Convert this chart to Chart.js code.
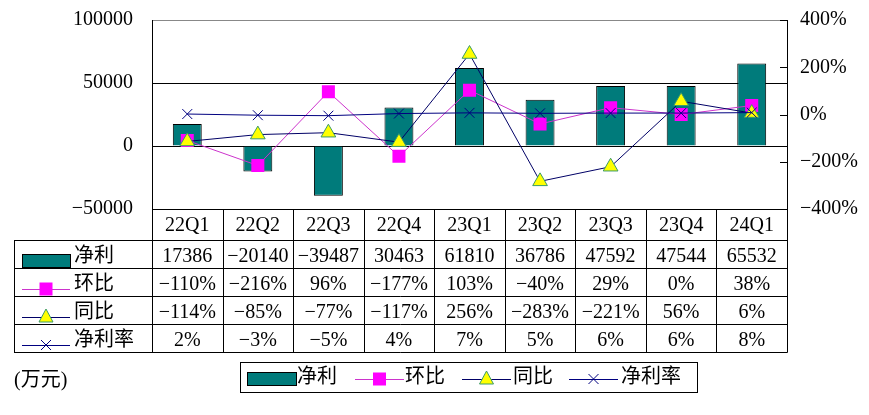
<!DOCTYPE html>
<html>
<head>
<meta charset="utf-8">
<script src="https://cdn.jsdelivr.net/npm/chart.js@4"></script>
<style>
html,body{margin:0;padding:0;background:#fff;}
#wrap{position:relative;width:869px;height:415px;}
</style>
</head>
<body>
<div id="wrap"><canvas id="c" width="869" height="415"></canvas></div>
<script>
const categories = ['22Q1','22Q2','22Q3','22Q4','23Q1','23Q2','23Q3','23Q4','24Q1'];
const netProfit = [17386, -20140, -39487, 30463, 61810, 36786, 47592, 47544, 65532];
const qoq = [-110, -216, 96, -177, 103, -40, 29, 0, 38];
const yoy = [-114, -85, -77, -117, 256, -283, -221, 56, 6];
const margin = [2, -3, -5, 4, 7, 5, 6, 6, 8];
const leftTicks = [-50000, 0, 50000, 100000];
const rightTicks = [-400, -200, 0, 200, 400];
const seriesNames = ['净利', '环比', '同比', '净利率'];
const unitLabel = '(万元)';

const FAMILY = '"Liberation Serif", "Noto Sans CJK SC"';
const FONT = '20px ' + FAMILY;
const TEAL = '#007b7b';
const MAGENTA = '#ff00ff';
const MAG_LINE = '#cc33cc';
const NAVY = '#000066';
const NAVY2 = '#000080';
const fmtNum = v => String(v).replace('-', '\u2212');
const fmtPct = v => fmtNum(v) + '%';

function drawSym(ctx, kind, x1, x2, y) {
  const cx = (x1 + x2) / 2;
  ctx.save();
  ctx.lineWidth = 1;
  if (kind === 0) {
    ctx.fillStyle = TEAL; ctx.strokeStyle = '#000';
    ctx.fillRect(x1, y - 7, x2 - x1, 13);
    ctx.strokeRect(x1 + 0.5, y - 6.5, x2 - x1, 13);
  } else {
    ctx.strokeStyle = kind === 1 ? MAG_LINE : (kind === 2 ? NAVY : NAVY2);
    ctx.beginPath(); ctx.moveTo(x1, Math.round(y) + 0.5); ctx.lineTo(x2, Math.round(y) + 0.5); ctx.stroke();
    if (kind === 1) {
      ctx.fillStyle = MAGENTA; ctx.fillRect(cx - 6.5, y - 6.5, 13, 13);
    } else if (kind === 2) {
      ctx.fillStyle = '#ffff00'; ctx.strokeStyle = '#3a9a6a';
      ctx.beginPath(); ctx.moveTo(cx, y - 8); ctx.lineTo(cx + 7, y + 5); ctx.lineTo(cx - 7, y + 5); ctx.closePath();
      ctx.fill(); ctx.stroke();
    } else {
      ctx.strokeStyle = NAVY2;
      ctx.beginPath(); ctx.moveTo(cx - 5, y - 5); ctx.lineTo(cx + 5, y + 5);
      ctx.moveTo(cx + 5, y - 5); ctx.lineTo(cx - 5, y + 5); ctx.stroke();
    }
  }
  ctx.restore();
}

const tablePlugin = {
  id: 'tablePlugin',
  afterDraw(chart) {
    const ctx = chart.ctx;
    const ca = chart.chartArea;
    const xs = chart.scales.x;
    const y1 = chart.scales.y1;
    const n = categories.length;
    const cw = ca.width / n;
    ctx.save();
    ctx.strokeStyle = '#000'; ctx.lineWidth = 1;
    rightTicks.forEach(v => {
      const y = Math.round(y1.getPixelForValue(v)) + 0.5;
      ctx.beginPath(); ctx.moveTo(ca.right - 7, y); ctx.lineTo(ca.right, y); ctx.stroke();
    });
    const top = Math.round(ca.bottom);
    const hdrB = top + 31;
    const rowH = 28;
    const rows = [netProfit.map(fmtNum), qoq.map(fmtPct), yoy.map(fmtPct), margin.map(fmtPct)];
    const tblL = 14;
    const bottom = hdrB + rowH * rows.length;
    ctx.beginPath();
    ctx.moveTo(ca.left, top + 0.5); ctx.lineTo(ca.right, top + 0.5);
    for (let r = 0; r <= rows.length; r++) {
      const y = hdrB + r * rowH + 0.5;
      ctx.moveTo(tblL, y); ctx.lineTo(ca.right + 0.5, y);
    }
    for (let i = 0; i <= n; i++) {
      const x = Math.round(ca.left + i * cw) + 0.5;
      ctx.moveTo(x, top); ctx.lineTo(x, bottom + 0.5);
    }
    ctx.moveTo(tblL + 0.5, hdrB); ctx.lineTo(tblL + 0.5, bottom + 0.5);
    ctx.stroke();
    ctx.font = FONT; ctx.fillStyle = '#000';
    ctx.textBaseline = 'middle'; ctx.textAlign = 'center';
    categories.forEach((c, i) => {
      ctx.fillText(c, xs.getPixelForValue(i), (top + hdrB) / 2 + 1);
    });
    rows.forEach((row, r) => {
      const cy = hdrB + r * rowH + rowH / 2 + 3;
      ctx.textAlign = 'center';
      row.forEach((t, i) => ctx.fillText(t, xs.getPixelForValue(i), cy));
      ctx.textAlign = 'left';
      ctx.fillText(seriesNames[r], 74, cy);
      drawSym(ctx, r, 22, 70, cy + 4);
    });
    ctx.textAlign = 'left';
    ctx.fillText(unitLabel, 14, 381);
    ctx.strokeStyle = '#000';
    ctx.strokeRect(240.5, 362.5, 457, 30);
    const items = [[247, 296, 297], [355, 404, 405], [462, 511, 513], [569, 618, 621]];
    items.forEach((it, k) => {
      drawSym(ctx, k, it[0], it[1], 379);
      ctx.fillStyle = '#000';
      ctx.fillText(seriesNames[k], it[2], 378);
    });
    ctx.restore();
  }
};

const fitY = w => s => { s.width = w; s.paddingTop = 0; s.paddingBottom = 0; };

new Chart(document.getElementById('c'), {
  type: 'bar',
  data: {
    labels: categories,
    datasets: [
      { type: 'bar', label: seriesNames[0], data: netProfit, yAxisID: 'y', order: 4,
        backgroundColor: TEAL, borderColor: '#000', borderWidth: 1,
        categoryPercentage: 1, barPercentage: 0.41 },
      { type: 'line', label: seriesNames[1], data: qoq, yAxisID: 'y1', order: 3,
        borderColor: MAG_LINE, borderWidth: 1, pointStyle: 'rect', pointRadius: 9.2,
        pointBackgroundColor: MAGENTA, pointBorderColor: MAGENTA, pointBorderWidth: 0, tension: 0 },
      { type: 'line', label: seriesNames[2], data: yoy, yAxisID: 'y1', order: 2,
        borderColor: NAVY, borderWidth: 1, pointStyle: 'triangle', pointRadius: 8.5,
        pointBackgroundColor: '#ffff00', pointBorderColor: '#3a9a6a', pointBorderWidth: 1, tension: 0 },
      { type: 'line', label: seriesNames[3], data: margin, yAxisID: 'y1', order: 1,
        borderColor: NAVY2, borderWidth: 1, pointStyle: 'crossRot', pointRadius: 7,
        pointBorderColor: NAVY2, pointBorderWidth: 1, tension: 0 }
    ]
  },
  options: {
    responsive: false,
    animation: false,
    devicePixelRatio: 1,
    layout: { padding: { left: 0, right: 0, top: 20, bottom: 206 } },
    plugins: { legend: { display: false }, tooltip: { enabled: false } },
    scales: {
      x: { display: false, offset: true, grid: { display: false } },
      y: {
        position: 'left', min: -50000, max: 100000,
        afterFit: fitY(152),
        afterBuildTicks: s => { s.ticks = leftTicks.map(v => ({ value: v })); },
        ticks: { font: { family: FAMILY, size: 20 }, color: '#000', padding: 19,
          callback: v => fmtNum(v) },
        grid: { drawTicks: false, color: c => (c.tick && c.tick.value === 100000 ? '#888' : '#000'), lineWidth: 1 },
        border: { display: true, color: '#000', width: 1 }
      },
      y1: {
        position: 'right', min: -400, max: 400,
        afterFit: fitY(82),
        afterBuildTicks: s => { s.ticks = rightTicks.map(v => ({ value: v })); },
        ticks: { font: { family: FAMILY, size: 20 }, color: '#000', padding: 13,
          callback: v => fmtPct(v) },
        grid: { drawOnChartArea: false, drawTicks: false },
        border: { display: true, color: '#000', width: 1 }
      }
    }
  },
  plugins: [tablePlugin]
});
</script>
</body>
</html>
